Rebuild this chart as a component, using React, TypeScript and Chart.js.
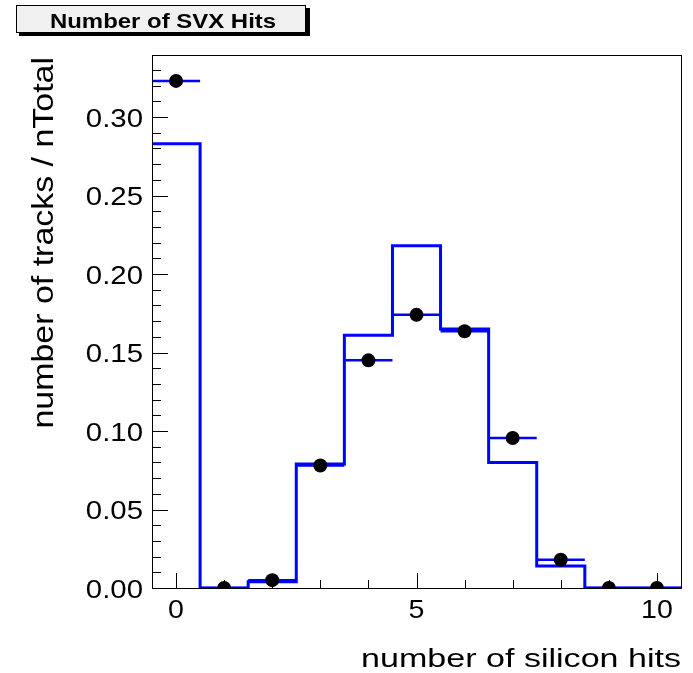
import { useEffect, useRef } from "react";
import { Chart, registerables } from "chart.js";

Chart.register(...registerables);

// ---- data ----
const bins = [0, 1, 2, 3, 4, 5, 6, 7, 8, 9, 10];
const mcValues = [0.283, 0.0, 0.004, 0.079, 0.161, 0.218, 0.165, 0.08, 0.014, 0.0, 0.0];
const dataValues = [0.323, 0.0, 0.005, 0.078, 0.145, 0.174, 0.1635, 0.0955, 0.018, 0.0, 0.0];
const yTickLabels = ["0.00", "0.05", "0.10", "0.15", "0.20", "0.25", "0.30"];
const yTickValues = [0, 0.05, 0.1, 0.15, 0.2, 0.25, 0.3];
const xTickLabels = ["0", "5", "10"];
const xTickValues = [0, 5, 10];
const titleText = "Number of SVX Hits";
const xTitle = "number of silicon hits";
const yTitle = "number of tracks / nTotal";

const FONT = "'Liberation Sans', Arial, Helvetica, sans-serif";

function stretchedText(
  ctx: CanvasRenderingContext2D,
  text: string,
  x: number,
  y: number,
  font: string,
  align: CanvasTextAlign,
  sx: number,
  rotate = 0
) {
  ctx.save();
  ctx.translate(x, y);
  if (rotate) ctx.rotate(rotate);
  ctx.scale(sx, 1);
  ctx.font = font;
  ctx.textAlign = align;
  ctx.textBaseline = "alphabetic";
  ctx.fillStyle = "#000";
  ctx.fillText(text, 0, 0);
  ctx.restore();
}

const decorPlugin = {
  id: "rootDecor",
  afterDraw(chart: any) {
    const ctx: CanvasRenderingContext2D = chart.ctx;
    const { left, right, top, bottom } = chart.chartArea;
    const xs = chart.scales.x;
    const ys = chart.scales.y;
    ctx.save();
    // frame
    ctx.strokeStyle = "#000";
    ctx.lineWidth = 1;
    ctx.strokeRect(Math.round(left) + 0.5, Math.round(top) + 0.5, Math.round(right - left), Math.round(bottom - top));

    // y ticks
    ctx.beginPath();
    for (let i = 0; i <= 33; i++) {
      const v = i / 100;
      const py = Math.round(ys.getPixelForValue(v)) + 0.5;
      const len = i % 5 === 0 ? 16 : 9;
      ctx.moveTo(left, py);
      ctx.lineTo(left + len, py);
    }
    // x ticks
    for (let i = 0; i <= 10; i++) {
      const px = Math.round(xs.getPixelForValue(i)) + 0.5;
      const len = i % 5 === 0 ? 15 : 8;
      ctx.moveTo(px, bottom);
      ctx.lineTo(px, bottom - len);
    }
    ctx.stroke();

    // y tick labels
    yTickValues.forEach((v, i) => {
      const py = ys.getPixelForValue(v);
      stretchedText(ctx, yTickLabels[i], left - 9, py + 9.5, `26px ${FONT}`, "right", 1.13);
    });
    // x tick labels
    xTickValues.forEach((v, i) => {
      const px = xs.getPixelForValue(v);
      stretchedText(ctx, xTickLabels[i], px, bottom + 30, `26px ${FONT}`, "center", 1.1);
    });

    // axis titles
    stretchedText(ctx, xTitle, right, 667, `26px ${FONT}`, "right", 1.31);
    stretchedText(ctx, yTitle, 53, top + 2, `29px ${FONT}`, "right", 1.17, -Math.PI / 2);

    // title box
    ctx.fillStyle = "#000";
    ctx.fillRect(19, 8, 291, 28);
    ctx.fillStyle = "#f0f0f0";
    ctx.fillRect(16, 5, 290, 28);
    ctx.strokeStyle = "#000";
    ctx.lineWidth = 1;
    ctx.strokeRect(16.5, 5.5, 289, 27);
    stretchedText(ctx, titleText, 163, 28, `bold 21px ${FONT}`, "center", 1.14);
    ctx.restore();
  },
};

export default function App() {
  const ref = useRef<HTMLCanvasElement>(null);
  useEffect(() => {
    const canvas = ref.current;
    if (!canvas) return;
    const histPts: { x: number; y: number }[] = bins.map((b, i) => ({ x: b - 0.5, y: mcValues[i] }));
    histPts.push({ x: bins[bins.length - 1] + 0.5, y: mcValues[mcValues.length - 1] });
    const errPts: { x: number; y: number | null }[] = [];
    bins.forEach((b, i) => {
      errPts.push({ x: b - 0.5, y: dataValues[i] });
      errPts.push({ x: b + 0.5, y: dataValues[i] });
      errPts.push({ x: b + 0.5, y: null });
    });
    const dotPts = bins.map((b, i) => ({ x: b, y: dataValues[i] }));

    const chart = new Chart(canvas, {
      type: "line",
      data: {
        datasets: [
          {
            label: "data",
            data: dotPts,
            showLine: false,
            pointRadius: 7,
            pointHoverRadius: 7,
            pointBackgroundColor: "#000",
            pointBorderColor: "#000",
            pointBorderWidth: 0,
            order: 1,
          } as any,
          {
            label: "errors",
            data: errPts,
            borderColor: "#0000ff",
            borderWidth: 2.5,
            pointRadius: 0,
            spanGaps: false,
            fill: false,
            order: 2,
          } as any,
          {
            label: "MC",
            data: histPts,
            stepped: true,
            borderColor: "#0000ff",
            borderWidth: 3,
            pointRadius: 0,
            fill: false,
            order: 3,
          } as any,
        ],
      },
      options: {
        responsive: false,
        animation: false,
        devicePixelRatio: 1,
        layout: { padding: { left: 152, top: 55, right: 12, bottom: 85 } },
        plugins: { legend: { display: false }, tooltip: { enabled: false }, title: { display: false } },
        events: [],
        scales: {
          x: { type: "linear", min: -0.5, max: 10.5, display: false },
          y: { type: "linear", min: 0, max: 0.3395, display: false },
        },
      },
      plugins: [decorPlugin],
    });
    return () => chart.destroy();
  }, []);
  return (
    <div style={{ position: "fixed", left: 0, top: 0, width: 693, height: 673, background: "#fff" }}>
      <canvas ref={ref} width={693} height={673} style={{ display: "block", width: 693, height: 673 }} />
    </div>
  );
}
